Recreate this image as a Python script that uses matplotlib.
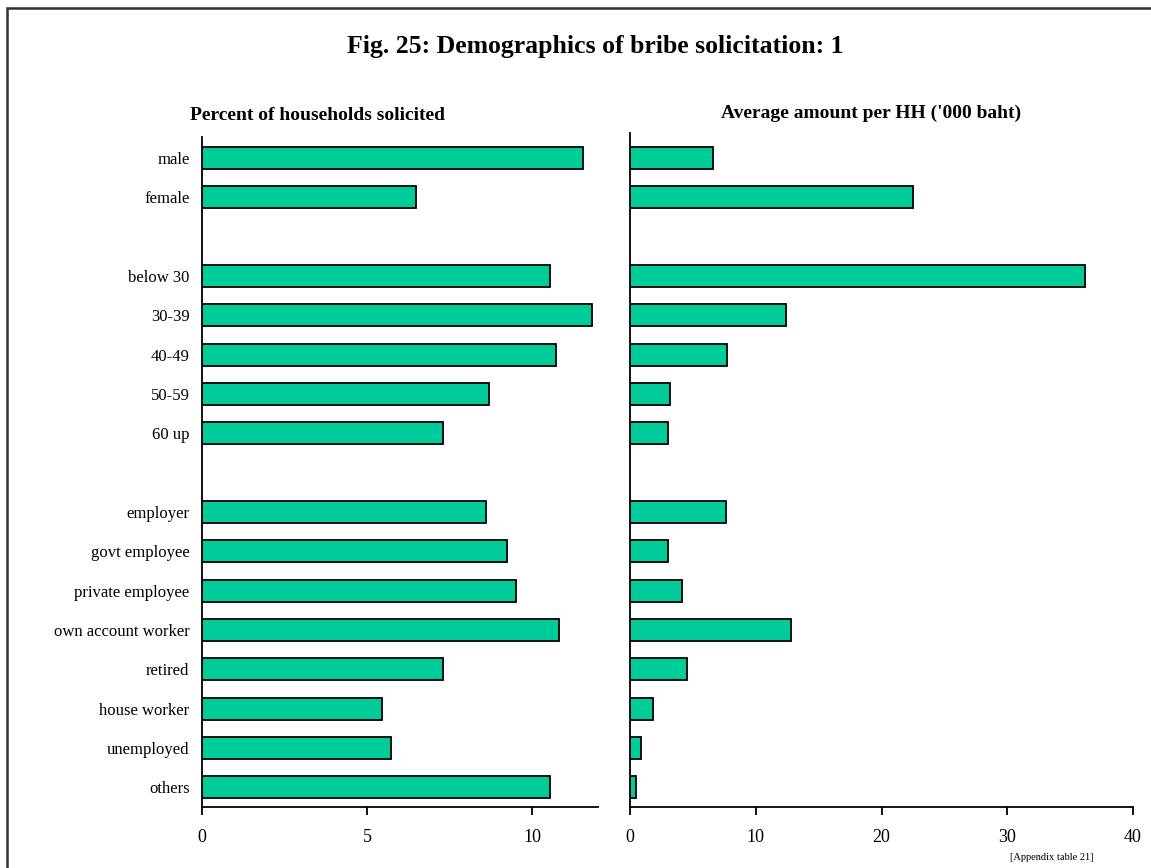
import matplotlib
matplotlib.use("Agg")
import matplotlib.pyplot as plt
from matplotlib.patches import Rectangle

plt.rcParams['font.family'] = ['Liberation Serif', 'DejaVu Serif']

# data
gender = ["male", "female"]
age = ["below 30", "30-39", "40-49", "50-59", "60 up"]
occupation = ["employer", "govt employee", "private employee", "own account worker",
              "retired", "house worker", "unemployed", "others"]

pct_gender = [11.55, 6.49]
pct_age = [10.55, 11.83, 10.72, 8.71, 7.30]
pct_occ = [8.62, 9.24, 9.53, 10.82, 7.31, 5.44, 5.73, 10.54]

amt_gender = [6.6, 22.5]
amt_age = [36.2, 12.4, 7.7, 3.2, 3.0]
amt_occ = [7.6, 3.0, 4.1, 12.8, 4.5, 1.8, 0.9, 0.5]

bar_color = "#00CC99"

# one blank slot between groups
groups = [gender, age, occupation]
labels = []
pos = []
p = 0
for g in groups:
    for lab in g:
        labels.append(lab)
        pos.append(p)
        p += 1
    p += 1

pct = pct_gender + pct_age + pct_occ
amt = amt_gender + amt_age + amt_occ

W, H = 1151, 868
fig = plt.figure(figsize=(W / 100, H / 100), dpi=100)

# outer frame (only top/left visible in the original)
fig.patches.append(Rectangle((7 / W, -0.05), 1.2, 1 - 8 / H + 0.05, transform=fig.transFigure,
                             fill=False, edgecolor="#333333", linewidth=1.8))

ax1 = fig.add_axes([202 / W, (H - 807) / H, 396 / W, 670 / H])
ax2 = fig.add_axes([630 / W, (H - 807) / H, 503 / W, 674 / H])

ax1.barh(pos, pct, height=0.56, color=bar_color, edgecolor="black", linewidth=1.3)
ax2.barh(pos, amt, height=0.56, color=bar_color, edgecolor="black", linewidth=1.3)

ax1.set_xlim(0, 12)
ax1.set_xticks([0, 5, 10])
ax1.set_ylim(16.5, -0.53)
ax1.set_yticks(pos)
ax1.set_yticklabels(labels, fontsize=12)

ax2.set_xlim(0, 40)
ax2.set_xticks([0, 10, 20, 30, 40])
ax2.set_ylim(16.5, -0.63)
ax2.set_yticks([])

for ax in (ax1, ax2):
    for s in ("top", "right"):
        ax.spines[s].set_visible(False)
    ax.spines["left"].set_linewidth(1.3)
    ax.spines["bottom"].set_linewidth(1.3)
    ax.tick_params(axis="x", direction="out", length=6, width=1.3, labelsize=13, pad=10)
ax1.tick_params(axis="y", length=0, pad=9)

fig.text(595 / W, 1 - 46 / H, "Fig. 25: Demographics of bribe solicitation: 1",
         ha="center", va="center", fontsize=18.5, fontweight="bold")
fig.text(318 / W, 1 - 115 / H, "Percent of households solicited",
         ha="center", va="center", fontsize=14, fontweight="bold")
fig.text(871 / W, 1 - 113 / H, "Average amount per HH ('000 baht)",
         ha="center", va="center", fontsize=14, fontweight="bold")
fig.text(1052 / W, 1 - 858 / H, "[Appendix table 21]",
         ha="center", va="center", fontsize=7.5)

fig.savefig("out.png", dpi=100)
